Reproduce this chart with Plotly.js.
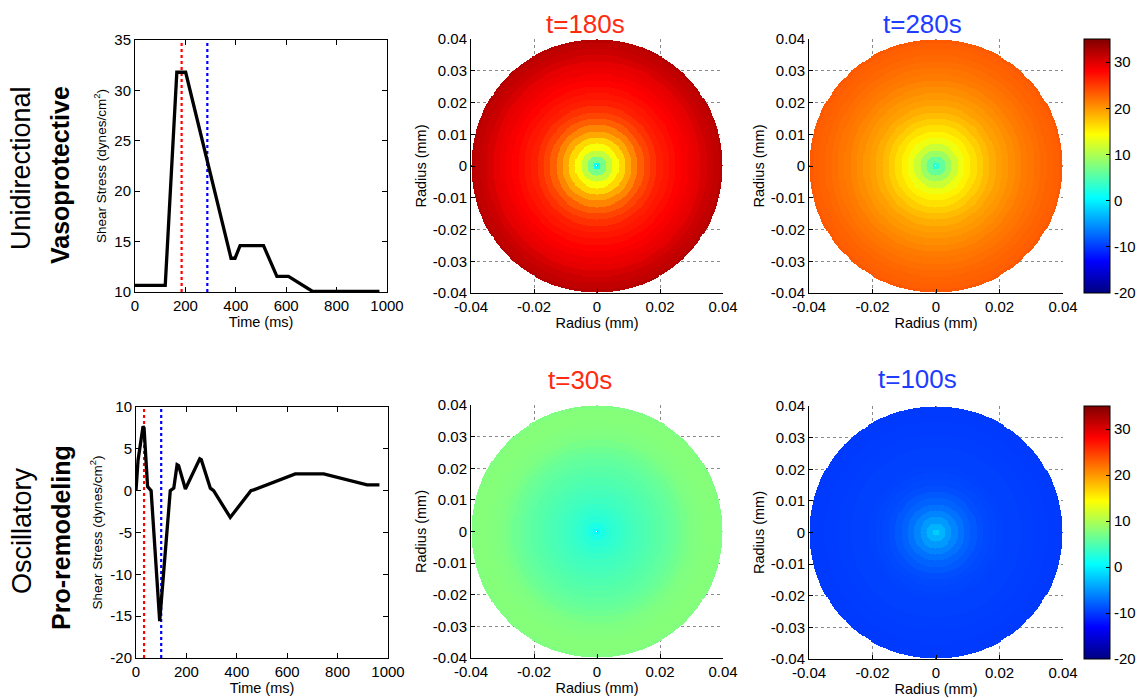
<!DOCTYPE html>
<html>
<head>
<meta charset="utf-8">
<script src="https://cdn.plot.ly/plotly-3.0.1.min.js"></script>
<style>html,body{margin:0;padding:0;background:#fff;}#chart{width:1144px;height:698px;}</style>
</head>
<body>
<div id="chart"></div>
<script>
// ---------- DATA ----------
// Top row: unidirectional (vasoprotective) waveform
const timeUni   = [0, 120, 166, 201, 381, 397, 417, 510, 563, 609, 705, 970];
const stressUni = [10.65, 10.65, 31.8, 31.8, 13.35, 13.35, 14.6, 14.6, 11.55, 11.55, 10.05, 10.05];
const markerUniRed = 185;   // t=180 marker
const markerUniBlue = 287;  // t=280 marker

// Bottom row: oscillatory (pro-remodeling) waveform
const timeOsc   = [0, 8, 28, 32, 46, 60, 94, 136, 150, 163, 169, 196, 253, 259, 295, 308, 374, 456, 467, 632, 745, 917, 966];
const stressOsc = [0, 3.6, 7.7, 7.5, 0.5, 0.0, -15.6, 0.0, 0.3, 3.1, 3.0, 0.2, 3.8, 3.7, 0.3, 0.0, -3.2, 0.0, 0.1, 2.0, 2.0, 0.7, 0.7];
const markerOscRed = 32;    // t=30 marker
const markerOscBlue = 100;  // t=100 marker

// Radial shear-stress profiles (value at each radius, mm)
const radii = [0, 0.002, 0.004, 0.006, 0.008, 0.010, 0.012, 0.014, 0.016, 0.018, 0.020,
               0.022, 0.024, 0.026, 0.028, 0.030, 0.032, 0.034, 0.036, 0.038, 0.040];
const profile180 = [1, 7, 11, 14, 16.5, 19, 21, 23, 24.5, 25.5, 26.5, 27, 27.5, 28, 28.5, 29, 29.5, 30.3, 31, 31.5, 32];
const profile280 = [3, 6, 9, 11.5, 13.5, 15, 16, 17, 18, 18.8, 19.5, 20, 20.5, 21, 21.5, 21.8, 22.2, 22.5, 22.8, 23, 23.3];
const profile30  = [0.5, 2, 2.8, 3.2, 3.6, 4, 4.3, 4.6, 4.9, 5.2, 5.5, 5.8, 6.1, 6.5, 7, 7.4, 7.6, 7.7, 7.8, 7.8, 7.5];
const profile100 = [-2, -3.5, -4.8, -6, -7, -7.8, -8.4, -8.9, -9.2, -9.4, -9.5, -9.6, -9.7, -9.7, -9.8, -9.8, -9.9, -9.9, -10, -10, -10];

const titles = ['t=180s', 't=280s', 't=30s', 't=100s'];
const rowLabels = ['Unidirectional', 'Vasoprotective', 'Oscillatory', 'Pro-remodeling'];

const uniTicks = [10, 15, 20, 25, 30, 35];
const oscTicks = [-20, -15, -10, -5, 0, 5, 10];
const timeTicks = [0, 200, 400, 600, 800, 1000];
const radTicksX = [-0.04, -0.02, 0, 0.02, 0.04];
const radTicksXText = ['-0.04', '-0.02', '0', '0.02', '0.04'];
const radTicksY = [-0.04, -0.03, -0.02, -0.01, 0, 0.01, 0.02, 0.03, 0.04];
const radTicksYText = ['-0.04', '-0.03', '-0.02', '-0.01', '0', '0.01', '0.02', '0.03', '0.04'];
const cbTicks = [-20, -10, 0, 10, 20, 30];
const zMin = -20, zMax = 35;

// ---------- BUILD ----------
const W = 1144, H = 698;
const FONT = 'Liberation Sans, Arial, sans-serif';
const RED = '#ff2a10', BLUE = '#1e3cff';
const dx = (a, b) => [a / W, b / W];
const dy = (top, bottom) => [1 - bottom / H, 1 - top / H];

const jet = [[0, 'rgb(0,0,128)'], [0.125, 'rgb(0,0,255)'], [0.375, 'rgb(0,255,255)'],
             [0.625, 'rgb(255,255,0)'], [0.875, 'rgb(255,0,0)'], [1, 'rgb(128,0,0)']];

const N = 241;
const gx = [];
for (let i = 0; i < N; i++) gx.push(-0.04 + i * 0.08 / (N - 1));
const step = radii[1] - radii[0];
function discGrid(profile) {
  const z = [];
  for (let j = 0; j < N; j++) {
    const row = [];
    for (let i = 0; i < N; i++) {
      const r = Math.hypot(gx[i], gx[j]);
      if (r > radii[radii.length - 1] + 1e-9) { row.push(null); continue; }
      if (r < 1e-9) { row.push(null); continue; }
      const k = Math.min(radii.length - 1, Math.round(r / step));
      row.push(profile[k]);
    }
    z.push(row);
  }
  return z;
}

function tickText(v) { return v.map(t => String(t)); }

function cbar(top, bottom) {
  return {
    x: 1084 / W, xanchor: 'left', xref: 'paper', xpad: 0, ypad: 0,
    y: 1 - (top + bottom) / 2 / H, yanchor: 'middle', yref: 'paper',
    len: (bottom - top) / H, lenmode: 'fraction',
    thickness: 26, thicknessmode: 'pixels',
    outlinewidth: 1, outlinecolor: '#000',
    tickvals: cbTicks, ticktext: tickText(cbTicks),
    ticks: 'inside', ticklen: 4, tickcolor: '#000',
    tickfont: { family: FONT, size: 15, color: '#000' }
  };
}

function heat(profile, xa, ya, showScale, top, bottom) {
  const t = {
    type: 'heatmap', x: gx, y: gx, z: discGrid(profile),
    xaxis: xa, yaxis: ya, colorscale: jet, zmin: zMin, zmax: zMax,
    zsmooth: false, showscale: showScale, hoverongaps: false
  };
  if (showScale) t.colorbar = cbar(top, bottom);
  return t;
}

const traces = [
  { type: 'scatter', mode: 'lines', x: [markerUniRed, markerUniRed], y: [10, 35], xaxis: 'x', yaxis: 'y',
    line: { color: '#ff0000', width: 2.2, dash: 'dot' }, showlegend: false },
  { type: 'scatter', mode: 'lines', x: [markerUniBlue, markerUniBlue], y: [10, 35], xaxis: 'x', yaxis: 'y',
    line: { color: '#0000ff', width: 2.2, dash: 'dot' }, showlegend: false },
  { type: 'scatter', mode: 'lines', x: timeUni, y: stressUni, xaxis: 'x', yaxis: 'y',
    line: { color: '#000', width: 3.3 }, showlegend: false },
  heat(profile180, 'x2', 'y2', false),
  heat(profile280, 'x3', 'y3', true, 39, 293),
  { type: 'scatter', mode: 'lines', x: [markerOscRed, markerOscRed], y: [-20, 10], xaxis: 'x4', yaxis: 'y4',
    line: { color: '#ff0000', width: 2.2, dash: 'dot' }, showlegend: false },
  { type: 'scatter', mode: 'lines', x: [markerOscBlue, markerOscBlue], y: [-20, 10], xaxis: 'x4', yaxis: 'y4',
    line: { color: '#0000ff', width: 2.2, dash: 'dot' }, showlegend: false },
  { type: 'scatter', mode: 'lines', x: timeOsc, y: stressOsc, xaxis: 'x4', yaxis: 'y4',
    line: { color: '#000', width: 3.3 }, showlegend: false },
  heat(profile30, 'x5', 'y5', false),
  heat(profile100, 'x6', 'y6', true, 406, 659)
];

const tickFont = { family: FONT, size: 15, color: '#000' };
const titleFont = { family: FONT, size: 14.5, color: '#000' };

function lineX(domain, anchor) {
  return { domain: domain, anchor: anchor, range: [0, 1000], tickvals: timeTicks, ticktext: tickText(timeTicks),
    ticks: 'inside', ticklen: 5, tickcolor: '#000', showline: true, linecolor: '#000', linewidth: 1,
    mirror: 'ticks', showgrid: false, zeroline: false, tickfont: tickFont,
    title: { text: 'Time (ms)', font: titleFont, standoff: 0 } };
}
function lineY(domain, anchor, range, ticks) {
  return { domain: domain, anchor: anchor, range: range, tickvals: ticks, ticktext: tickText(ticks),
    ticks: 'inside', ticklen: 5, tickcolor: '#000', showline: true, linecolor: '#000', linewidth: 1,
    mirror: 'ticks', showgrid: false, zeroline: false, tickfont: tickFont,
    title: { text: 'Shear Stress (dynes/cm<sup>2</sup>)', font: { family: FONT, size: 13.5, color: '#000' }, standoff: 4 } };
}
function radX(domain, anchor) {
  return { domain: domain, anchor: anchor, range: [-0.04, 0.04], tickvals: radTicksX, ticktext: radTicksXText,
    ticks: 'inside', ticklen: 4, tickcolor: '#000', showline: true, linecolor: '#000', linewidth: 1,
    mirror: false, showgrid: true, gridcolor: '#8a8a8a', gridwidth: 1, griddash: 'dot', zeroline: false,
    tickfont: tickFont, title: { text: 'Radius (mm)', font: titleFont, standoff: 0 } };
}
function radY(domain, anchor) {
  return { domain: domain, anchor: anchor, range: [-0.04, 0.04], tickvals: radTicksY, ticktext: radTicksYText,
    ticks: 'inside', ticklen: 4, tickcolor: '#000', showline: true, linecolor: '#000', linewidth: 1,
    mirror: false, showgrid: true, gridcolor: '#8a8a8a', gridwidth: 1, griddash: 'dot', zeroline: false,
    tickfont: tickFont, title: { text: 'Radius (mm)', font: titleFont, standoff: 2 } };
}

const annotations = [
  { text: titles[0], x: 585 / W, y: 1 - 24 / H, font: { family: FONT, size: 26, color: RED } },
  { text: titles[1], x: 922 / W, y: 1 - 24 / H, font: { family: FONT, size: 26, color: BLUE } },
  { text: titles[2], x: 580 / W, y: 1 - 380 / H, font: { family: FONT, size: 26, color: RED } },
  { text: titles[3], x: 917 / W, y: 1 - 379 / H, font: { family: FONT, size: 26, color: BLUE } },
  { text: rowLabels[0], x: 21 / W, y: 1 - 168 / H, textangle: -90, font: { family: FONT, size: 27, color: '#000' } },
  { text: '<b>' + rowLabels[1] + '</b>', x: 60 / W, y: 1 - 175 / H, textangle: -90, font: { family: FONT, size: 25, color: '#000' } },
  { text: rowLabels[2], x: 22 / W, y: 1 - 531 / H, textangle: -90, font: { family: FONT, size: 27, color: '#000' } },
  { text: '<b>' + rowLabels[3] + '</b>', x: 61 / W, y: 1 - 538 / H, textangle: -90, font: { family: FONT, size: 25, color: '#000' } }
].map(a => Object.assign({ xref: 'paper', yref: 'paper', xanchor: 'center', yanchor: 'middle', showarrow: false }, a));

const layout = {
  width: W, height: H, margin: { l: 0, r: 0, t: 0, b: 0, pad: 0 },
  paper_bgcolor: '#fff', plot_bgcolor: 'rgba(0,0,0,0)', showlegend: false,
  font: { family: FONT, color: '#000' },
  xaxis: lineX(dx(135, 387), 'y'),
  yaxis: lineY(dy(40, 292), 'x', [10, 35], uniTicks),
  xaxis2: radX(dx(471, 723), 'y2'),
  yaxis2: radY(dy(39, 293), 'x2'),
  xaxis3: radX(dx(809, 1063), 'y3'),
  yaxis3: radY(dy(39, 293), 'x3'),
  xaxis4: lineX(dx(136, 388), 'y4'),
  yaxis4: lineY(dy(407, 658), 'x4', [-20, 10], oscTicks),
  xaxis5: radX(dx(471, 723), 'y5'),
  yaxis5: radY(dy(405, 658), 'x5'),
  xaxis6: radX(dx(809, 1063), 'y6'),
  yaxis6: radY(dy(406, 659), 'x6'),
  annotations: annotations
};

Plotly.newPlot('chart', traces, layout, { staticPlot: true, displayModeBar: false });
</script>
</body>
</html>
